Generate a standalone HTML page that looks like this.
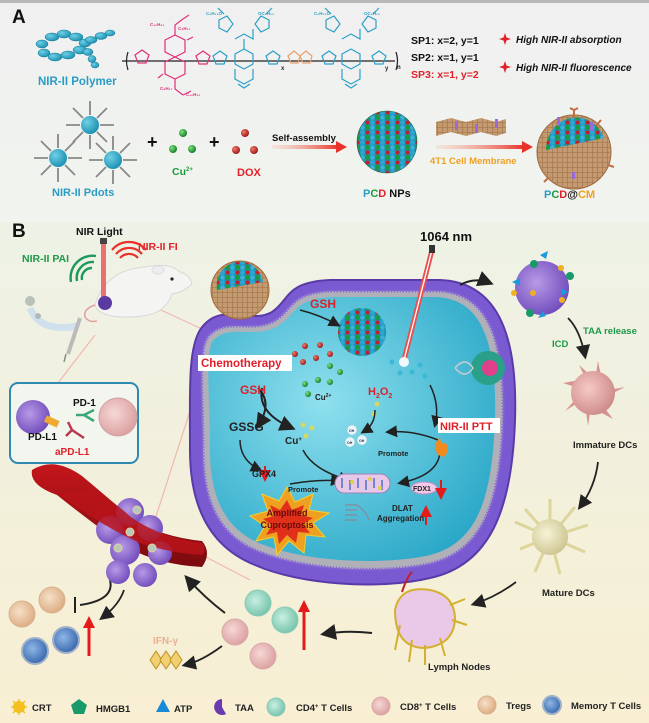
<!DOCTYPE html>
<html><head><meta charset="utf-8"><style>
html,body{margin:0;padding:0;background:#fff}
svg{display:block}
text{font-family:"Liberation Sans",Arial,sans-serif;font-weight:bold}
</style></head><body>
<svg width="649" height="723" viewBox="0 0 649 723" xmlns="http://www.w3.org/2000/svg">
<defs>
<linearGradient id="bgA" x1="0" y1="0" x2="0" y2="1"><stop offset="0" stop-color="#f0f0f0"/><stop offset="1" stop-color="#f1f4ee"/></linearGradient>
<linearGradient id="bgB" x1="0" y1="0" x2="0" y2="1"><stop offset="0" stop-color="#eef2e6"/><stop offset="0.5" stop-color="#f2f0dc"/><stop offset="1" stop-color="#f8efd3"/></linearGradient>
<linearGradient id="arr" x1="0" y1="0" x2="1" y2="0"><stop offset="0" stop-color="#f6c6b0" stop-opacity="0.3"/><stop offset="1" stop-color="#e8322a"/></linearGradient>
<radialGradient id="cyanG" cx="0.4" cy="0.4" r="0.7"><stop offset="0" stop-color="#8fe0ee"/><stop offset="1" stop-color="#2aa8c8"/></radialGradient>
<radialGradient id="bead" cx="0.35" cy="0.35" r="0.7"><stop offset="0" stop-color="#6fd0e6"/><stop offset="1" stop-color="#1a8fb0"/></radialGradient>
<radialGradient id="grn" cx="0.35" cy="0.35" r="0.7"><stop offset="0" stop-color="#7fe07f"/><stop offset="1" stop-color="#137a26"/></radialGradient>
<radialGradient id="red" cx="0.35" cy="0.35" r="0.7"><stop offset="0" stop-color="#f07a6a"/><stop offset="1" stop-color="#9a1414"/></radialGradient>
<radialGradient id="purp" cx="0.4" cy="0.4" r="0.7"><stop offset="0" stop-color="#b79ae6"/><stop offset="1" stop-color="#6a44b8"/></radialGradient>
<radialGradient id="pink" cx="0.4" cy="0.4" r="0.7"><stop offset="0" stop-color="#f6d8d6"/><stop offset="1" stop-color="#d89a9a"/></radialGradient>
<radialGradient id="cd4" cx="0.4" cy="0.4" r="0.7"><stop offset="0" stop-color="#c9efe2"/><stop offset="1" stop-color="#6cbfa5"/></radialGradient>
<radialGradient id="treg" cx="0.4" cy="0.4" r="0.7"><stop offset="0" stop-color="#f7e0c8"/><stop offset="1" stop-color="#d8a77a"/></radialGradient>
<radialGradient id="mem" cx="0.4" cy="0.4" r="0.7"><stop offset="0" stop-color="#8fb6e6"/><stop offset="1" stop-color="#2c5ea6"/></radialGradient>
<radialGradient id="dc" cx="0.4" cy="0.4" r="0.7"><stop offset="0" stop-color="#f6c9c6"/><stop offset="1" stop-color="#c98583"/></radialGradient>
<radialGradient id="mdc" cx="0.4" cy="0.4" r="0.7"><stop offset="0" stop-color="#f7f4d6"/><stop offset="1" stop-color="#c9c08a"/></radialGradient>
<linearGradient id="vessel" x1="0" y1="0" x2="0" y2="1"><stop offset="0" stop-color="#c4161c"/><stop offset="1" stop-color="#7a0a0e"/></linearGradient>
<pattern id="npP" width="10" height="10" patternUnits="userSpaceOnUse">
<rect width="10" height="10" fill="#1e8fb5"/><circle cx="2.5" cy="2.5" r="2.5" fill="#2aa6cf"/><circle cx="7.5" cy="7.5" r="2.5" fill="#1c9a3a"/><circle cx="7.5" cy="2.5" r="2" fill="#c0202a"/><circle cx="2.5" cy="7.5" r="2.3" fill="#3ab2d8"/></pattern>
<pattern id="memb" width="5" height="5" patternUnits="userSpaceOnUse"><rect width="5" height="5" fill="#c49a70"/><path d="M0 2.5H5M2.5 0V5" stroke="#a87a52" stroke-width="0.8"/></pattern>
<marker id="ah" markerWidth="8" markerHeight="8" refX="6" refY="4" orient="auto"><path d="M0,0 L8,4 L0,8 Z" fill="#222"/></marker>
<marker id="ahr" markerWidth="6" markerHeight="6" refX="3" refY="3" orient="auto"><path d="M0,0 L6,3 L0,6 Z" fill="#e51b1b"/></marker>
</defs>

<rect x="0" y="0" width="649" height="230" fill="url(#bgA)"/>
<rect x="0" y="0" width="649" height="3" fill="#b8b8b8"/>
<rect x="0" y="222" width="649" height="501" fill="url(#bgB)"/>

<text x="12" y="23" font-size="19" fill="#111">A</text>
<g fill="url(#bead)" stroke="#127a98" stroke-width="0.5">
<ellipse cx="42" cy="44" rx="6" ry="4"/><ellipse cx="52" cy="37" rx="7" ry="4"/><ellipse cx="64" cy="34" rx="7" ry="4"/><ellipse cx="76" cy="37" rx="7" ry="4"/><ellipse cx="85" cy="43" rx="6" ry="4"/>
<ellipse cx="44" cy="53" rx="6" ry="4"/><ellipse cx="55" cy="57" rx="7" ry="4"/><ellipse cx="68" cy="55" rx="7" ry="4"/><ellipse cx="80" cy="50" rx="7" ry="4"/>
<ellipse cx="91" cy="40" rx="6" ry="3.5"/><ellipse cx="101" cy="36" rx="6" ry="3.5"/><ellipse cx="110" cy="33" rx="5" ry="3"/>
<ellipse cx="88" cy="52" rx="5" ry="3.5"/><ellipse cx="92" cy="59" rx="4" ry="3.5"/><ellipse cx="95" cy="65" rx="4" ry="3"/>
</g>
<text x="38" y="85" font-size="11.5" fill="#2a9dc6">NIR-II Polymer</text>
<g fill="none" stroke-width="1.2">
<path d="M122 61 H395" stroke="#222"/>
<path d="M128 52 q-3 9 0 18 M396 52 q3 9 0 18" stroke="#222"/>
<g stroke="#e0307a">
<path d="M135 55 l7 -5 l7 5 l-3 8 h-8 z"/>
<path d="M165 40 l10 -5 l10 5 v12 l-10 5 l-10 -5 z M175 57 l10 5 v12 l-10 5 l-10 -5 v-12 z"/>
<path d="M175 35 v-10 l8 -6 M183 19 l6 -4 M175 79 v10 l8 6 M183 95 l8 -4"/>
<path d="M187 40 l6 -3 M163 74 l-5 4"/>
<path d="M196 56 l7 -5 l7 5 l-3 8 h-8 z"/>
</g>
<g stroke="#2aa0c8">
<path d="M213 56 l7 -5 l7 5 l-3 8 h-8 z"/>
<path d="M235 54 l9 -5 l9 5 v10 l-9 5 l-9 -5 z M244 49 l0 -10 M235 39 l9 -5 l9 5 v-10 M235 69 v10 l9 5 l9 -5 v-10"/>
<path d="M233 24 l-6 -8 l-8 4 l0 8 l8 4 z M255 24 l6 -8 l8 4 v8 l-8 4 z M224 14 l-6 -6 M266 14 l6 -6"/>
<path d="M238 84 l6 4 l6 -4"/>
<path d="M266 56 l7 -5 l7 5 l-3 8 h-8 z"/>
</g>
<path d="M288 56 l6 -5 l6 5 l-2 7 h-7 z M300 56 l6 -5 l6 5 l-2 7 h-7 z" stroke="#e9a070"/>
<g stroke="#2aa0c8">
<path d="M322 56 l7 -5 l7 5 l-3 8 h-8 z"/>
<path d="M342 54 l9 -5 l9 5 v10 l-9 5 l-9 -5 z M342 39 l9 -5 l9 5 v-10 M342 69 v10 l9 5 l9 -5 v-10"/>
<path d="M340 24 l-6 -8 l-8 4 l0 8 l8 4 z M362 24 l6 -8 l8 4 v8 l-8 4 z M331 14 l-6 -6 M373 14 l6 -6"/>
<path d="M345 84 l6 4 l6 -4"/>
<path d="M372 56 l7 -5 l7 5 l-3 8 h-8 z"/>
</g>
</g>
<g font-size="4.5" fill="#e0307a"><text x="150" y="26">C₁₀H₂₁</text><text x="178" y="30">C₈H₁₇</text><text x="160" y="90">C₈H₁₇</text><text x="186" y="96">C₁₀H₂₁</text></g>
<g font-size="4.5" fill="#2aa0c8"><text x="206" y="15">C₆H₁₃O</text><text x="258" y="15">OC₆H₁₃</text><text x="314" y="15">C₆H₁₃O</text><text x="364" y="15">OC₆H₁₃</text></g>
<text x="281" y="70" font-size="6" fill="#222">x</text><text x="385" y="70" font-size="6" fill="#222">y</text><text x="397" y="69" font-size="6" fill="#222">n</text>

<text x="411" y="44" font-size="10.5" fill="#111">SP1: x=2, y=1</text>
<text x="411" y="61" font-size="10.5" fill="#111">SP2: x=1, y=1</text>
<text x="411" y="78" font-size="10.5" fill="#e0202a">SP3: x=1, y=2</text>
<g fill="#e0202a"><path d="M505 33 l1.5 4.5 l4.5 1.5 l-4.5 1.5 l-1.5 4.5 l-1.5 -4.5 l-4.5 -1.5 l4.5 -1.5 z"/><path d="M505 61 l1.5 4.5 l4.5 1.5 l-4.5 1.5 l-1.5 4.5 l-1.5 -4.5 l-4.5 -1.5 l4.5 -1.5 z"/></g>
<text x="516" y="43" font-size="10" font-style="italic" fill="#111">High NIR-II absorption</text>
<text x="516" y="71" font-size="10" font-style="italic" fill="#111">High NIR-II fluorescence</text>

<g stroke="#888" stroke-width="1.8">
<g transform="translate(90,125)"><path d="M0-24V-10M0 10V24M-24 0H-10M10 0H24M-17-17L-7-7M7 7L17 17M-17 17L-7 7M7-7L17-17"/></g>
<g transform="translate(58,158)"><path d="M0-24V-10M0 10V24M-24 0H-10M10 0H24M-17-17L-7-7M7 7L17 17M-17 17L-7 7M7-7L17-17"/></g>
<g transform="translate(113,160)"><path d="M0-24V-10M0 10V24M-24 0H-10M10 0H24M-17-17L-7-7M7 7L17 17M-17 17L-7 7M7-7L17-17"/></g>
</g>
<circle cx="90" cy="125" r="9" fill="url(#bead)"/><circle cx="58" cy="158" r="9" fill="url(#bead)"/><circle cx="113" cy="160" r="9" fill="url(#bead)"/>
<text x="52" y="196" font-size="11" fill="#2a9dc6">NIR-II Pdots</text>
<text x="147" y="148" font-size="18" fill="#111">+</text>
<circle cx="183" cy="133" r="4" fill="url(#grn)"/><circle cx="173" cy="149" r="4" fill="url(#grn)"/><circle cx="192" cy="149" r="4" fill="url(#grn)"/>
<text x="172" y="175" font-size="10.5" fill="#1c9a3a">Cu<tspan font-size="6" dy="-4">2+</tspan></text>
<text x="209" y="148" font-size="18" fill="#111">+</text>
<circle cx="245" cy="133" r="4" fill="url(#red)"/><circle cx="236" cy="150" r="4" fill="url(#red)"/><circle cx="254" cy="150" r="4" fill="url(#red)"/>
<text x="237" y="176" font-size="11" fill="#e0202a">DOX</text>
<text x="272" y="141" font-size="9.5" fill="#111">Self-assembly</text>
<rect x="272" y="145" width="66" height="4" fill="url(#arr)"/><path d="M336 141 L347 147 L336 153 Z" fill="#e8322a"/>
<ellipse cx="387" cy="142" rx="30" ry="31" fill="url(#npP)" stroke="#166a4a" stroke-width="0.6"/>
<text x="363" y="197" font-size="11"><tspan fill="#2a9dc6">P</tspan><tspan fill="#1c9a3a">C</tspan><tspan fill="#e0202a">D</tspan><tspan fill="#111"> NPs</tspan></text>
<path d="M436 122 l15 -4 l15 4 l15 -4 l15 4 l10 -3 v14 l-10 3 l-15 -4 l-15 4 l-15 -4 l-15 4 z" fill="url(#memb)"/>
<g fill="#9a6ad8"><rect x="455" y="121" width="3" height="9"/><rect x="475" y="124" width="3" height="9"/><rect x="495" y="119" width="3" height="9"/></g>
<rect x="436" y="145" width="88" height="4" fill="url(#arr)"/><path d="M522 141 L533 147 L522 153 Z" fill="#e8322a"/>
<text x="430" y="164" font-size="9.5" fill="#f0a020">4T1 Cell Membrane</text>
<circle cx="574" cy="152" r="37" fill="url(#memb)" stroke="#a06a3e"/>
<path d="M546 150 a30 32 0 0 1 58 -12 z" fill="url(#npP)"/>
<path d="M574 118 v-8 M570 108 l4 2 4 -2 M596 126 l5 -6 M608 165 l6 2 M548 178 l-4 4" stroke="#c07040" stroke-width="2" fill="none"/>
<g fill="#9a6ad8"><rect x="557" y="117" width="3" height="9"/><rect x="590" y="122" width="3" height="9"/><rect x="572" y="172" width="3" height="7"/></g>
<text x="544" y="198" font-size="11"><tspan fill="#2a9dc6">P</tspan><tspan fill="#1c9a3a">C</tspan><tspan fill="#e0202a">D</tspan><tspan fill="#111">@</tspan><tspan fill="#f0a020">CM</tspan></text>

<text x="12" y="237" font-size="19" fill="#111">B</text>
<text x="76" y="235" font-size="10.5" fill="#111">NIR Light</text>
<text x="420" y="241" font-size="13" fill="#111">1064 nm</text>
<text x="138" y="250" font-size="10.5" fill="#e0202a">NIR-II FI</text>
<text x="22" y="262" font-size="10.5" fill="#1c9a4a">NIR-II PAI</text>
<g fill="none" stroke="#e8322a" stroke-width="2.2"><path d="M120 258 a12 12 0 0 1 18 0"/><path d="M116 254 a17 17 0 0 1 26 0"/><path d="M112 250 a22 22 0 0 1 34 0"/></g>
<g fill="none" stroke="#1c9a5a" stroke-width="2.4"><path d="M92 268 a10 10 0 0 0 -10 12"/><path d="M94 262 a16 16 0 0 0 -17 19"/><path d="M96 256 a22 22 0 0 0 -25 26"/></g>
<g stroke="#f0b8b0" stroke-width="1.2" fill="none"><path d="M150 305 L215 335"/><path d="M95 335 L58 383"/><path d="M200 380 L150 535"/><path d="M135 520 L250 580"/></g>
<path d="M95 305 q10 -35 50 -38 q25 -5 35 5 q10 3 12 12 q-8 8 -20 10 q-5 15 -20 20 q-20 5 -40 2 q-15 -3 -17 -11z" fill="#f4f4f2" stroke="#d8d8d8"/>
<path d="M95 305 q-12 4 -10 12 q4 6 12 4" fill="none" stroke="#e0a0a0" stroke-width="1.5"/>
<circle cx="172" cy="279" r="1.6" fill="#222"/><ellipse cx="158" cy="270" rx="6" ry="4" fill="#eee" stroke="#ddd"/>
<rect x="101" y="239" width="5" height="62" fill="#e85050" opacity="0.8"/><rect x="100" y="238" width="7" height="6" fill="#444"/>
<circle cx="105" cy="303" r="7" fill="#5a3aa0"/>
<path d="M30 308 q10 25 48 18" fill="none" stroke="#c8dcef" stroke-width="7" opacity="0.8"/>
<circle cx="30" cy="301" r="5" fill="#b8c0b8"/><circle cx="38" cy="316" r="3" fill="#b0b8b8"/>
<path d="M80 318 l-12 36" stroke="#bbb" stroke-width="4"/><path d="M66 354 l-2 8" stroke="#888" stroke-width="1.5"/>
<rect x="10" y="383" width="128" height="80" rx="8" fill="#f3f6ef" stroke="#2f8ab0" stroke-width="2"/>
<circle cx="33" cy="417" r="17" fill="url(#purp)"/>
<rect x="45" y="418" width="14" height="7" fill="#f0a830" transform="rotate(25 52 421)"/>
<path d="M84 415 l10 -5 M84 415 l10 6 M84 415 h-8" stroke="#3aa878" stroke-width="2.5" fill="none"/>
<path d="M72 430 l-4 -8 M72 430 l-6 6 M72 430 l12 8" stroke="#b83a50" stroke-width="2.5" fill="none"/>
<circle cx="118" cy="417" r="19" fill="url(#pink)" stroke="#d2a0a0"/>
<text x="73" y="406" font-size="10" fill="#111">PD-1</text>
<text x="28" y="440" font-size="10" fill="#111">PD-L1</text>
<text x="55" y="455" font-size="10" fill="#e0202a">aPD-L1</text>

<path d="M200 330 C220 300 250 325 272 312 C290 300 285 282 330 280 L440 280 C495 282 518 330 515 420 C512 510 490 565 430 578 C380 590 300 585 255 565 C205 545 190 500 190 450 C190 390 188 350 200 330Z" fill="#7a5ad0" stroke="#5a3aa8" stroke-width="2"/>
<path d="M207 338 C225 315 252 335 276 320 C293 309 290 293 332 291 L438 291 C486 293 505 335 503 420 C500 505 482 552 428 564 C380 574 305 570 260 552 C215 535 203 495 203 450 C203 395 198 355 207 338Z" fill="#b0b0b8" stroke="#8a6ad8" stroke-width="3" stroke-dasharray="1.5 1.5"/>
<path d="M212 342 C228 322 254 340 278 326 C296 315 294 298 333 297 L436 297 C480 299 497 338 495 420 C492 500 477 545 426 556 C380 565 308 562 264 545 C222 530 210 492 210 450 C210 398 205 360 212 342Z" fill="url(#cyanG)"/>
<circle cx="240" cy="290" r="29" fill="url(#memb)" stroke="#a06a3e"/>
<path d="M217 290 a23 24 0 0 1 46 -8 z" fill="url(#npP)"/>
<circle cx="362" cy="332" r="24" fill="url(#npP)"/>
<circle cx="488" cy="368" r="17" fill="#2aa088"/><circle cx="490" cy="368" r="8" fill="#e0408a"/>
<path d="M455 368 q10 -12 18 0 q-8 12 -18 0" fill="none" stroke="#ccc" stroke-width="1.5"/>
<path d="M432 250 L404 360" stroke="#e85050" stroke-width="5"/><path d="M432 250 L404 360" stroke="#fff" stroke-width="1.3"/>
<rect x="429" y="245" width="6" height="8" fill="#333"/>
<circle cx="404" cy="362" r="5" fill="#fff" opacity="0.9"/>
<g fill="url(#red)"><circle cx="295" cy="354" r="3"/><circle cx="305" cy="346" r="3"/><circle cx="320" cy="345" r="3"/><circle cx="303" cy="362" r="3"/><circle cx="316" cy="358" r="3"/><circle cx="330" cy="354" r="3"/></g>
<g fill="url(#grn)"><circle cx="330" cy="366" r="3"/><circle cx="340" cy="372" r="3"/><circle cx="305" cy="384" r="3"/><circle cx="318" cy="380" r="3"/><circle cx="330" cy="382" r="3"/><circle cx="308" cy="394" r="3"/></g>
<g fill="#3ab8d8"><circle cx="392" cy="362" r="2.5"/><circle cx="400" cy="373" r="2.5"/><circle cx="412" cy="372" r="2.5"/><circle cx="420" cy="365" r="2.5"/><circle cx="425" cy="376" r="2.5"/></g>
<g fill="#d8d860"><circle cx="303" cy="425" r="2.5"/><circle cx="312" cy="428" r="2.5"/><circle cx="306" cy="436" r="2.5"/><circle cx="377" cy="404" r="2.5"/><circle cx="374" cy="414" r="2.5"/></g>
<g fill="#e8f6fa" stroke="#9ac8d8" stroke-width="0.6"><circle cx="352" cy="430" r="5"/><circle cx="350" cy="442" r="5"/><circle cx="362" cy="440" r="5"/></g>
<g font-size="3.5" fill="#335"><text x="349" y="432">OH</text><text x="347" y="444">OH</text><text x="359" y="442">OH</text></g>
<g fill="none" stroke="#222" stroke-width="1.5" marker-end="url(#ah)">
<path d="M300 310 q20 5 38 15"/><path d="M258 388 q15 15 0 38" stroke-width="2"/><path d="M262 388 q-5 25 30 40" stroke-width="2"/>
<path d="M240 440 q0 20 20 30"/><path d="M303 450 q10 20 45 30"/><path d="M290 484 q30 -5 50 -3"/>
<path d="M430 385 q10 20 5 40"/><path d="M375 410 q0 15 -12 22"/><path d="M438 440 q-25 -10 -50 -8"/><path d="M440 450 q0 25 -40 33"/>
</g>
<path d="M438 455 q-6 -10 2 -18 q0 8 6 6 q4 8 -2 14 z" fill="#f28a20"/>
<rect x="335" y="474" width="55" height="19" rx="9.5" fill="#e6c8e8" stroke="#a080b8"/>
<path d="M342 478 v10 M350 480 v10 M358 478 v10 M366 480 v10 M374 478 v10 M382 480 v10" stroke="#5070c0" stroke-width="1.5"/>
<g fill="#e0d040"><circle cx="352" cy="482" r="2"/><circle cx="370" cy="479" r="2"/><circle cx="380" cy="488" r="2"/></g>
<ellipse cx="424" cy="488" rx="13" ry="6" fill="#f0c8e8" stroke="#c090c0"/>
<text x="413" y="491" font-size="7" fill="#222">FDX1</text>
<path d="M441 480 v14" stroke="#e51b1b" stroke-width="2" marker-end="url(#ahr)"/>
<path d="M426 525 v-14" stroke="#e51b1b" stroke-width="2" marker-end="url(#ahr)"/>
<path d="M265 466 v10" stroke="#e51b1b" stroke-width="2" marker-end="url(#ahr)"/>
<path d="M287 487 l8 15 l18 -8 l-4 16 l20 3 l-16 10 l12 14 l-19 -2 l-2 18 l-15 -12 l-12 14 l-3 -18 l-18 4 l9 -15 l-15 -10 l18 -5 l-6 -17 l17 7 z" fill="#f0a020" stroke="#f4d030"/>
<path d="M287 500 l5 10 l12 -5 l-3 10 l12 3 l-10 6 l7 9 l-12 -1 l-2 11 l-9 -8 l-8 9 l-2 -12 l-11 3 l6 -10 l-9 -6 l11 -3 l-4 -11 l10 5 z" fill="#e0301a"/>
<text x="287" y="516" font-size="9" fill="#6a0a0a" text-anchor="middle">Amplified</text>
<text x="287" y="528" font-size="9" fill="#6a0a0a" text-anchor="middle">Cuproptosis</text>
<path d="M345 505 h12 M345 510 h12 M345 515 h12 M345 520 h12 M357 505 q8 5 12 15" stroke="#889" stroke-width="1.2" fill="none"/>
<text x="310" y="308" font-size="12" fill="#e0202a">GSH</text>
<rect x="198" y="355" width="94" height="16" fill="#fff"/>
<text x="201" y="367" font-size="11.5" fill="#e0202a">Chemotherapy</text>
<text x="240" y="394" font-size="12" fill="#e0202a">GSH</text>
<text x="315" y="400" font-size="8" fill="#222">Cu<tspan font-size="5" dy="-3">2+</tspan></text>
<text x="229" y="431" font-size="12" fill="#222">GSSG</text>
<text x="285" y="444" font-size="10" fill="#222">Cu<tspan font-size="6" dy="-3">+</tspan></text>
<text x="368" y="395" font-size="11" fill="#e0202a">H<tspan font-size="7" dy="3">2</tspan><tspan dy="-3">O</tspan><tspan font-size="7" dy="3">2</tspan></text>
<rect x="438" y="418" width="62" height="15" fill="#fff"/>
<text x="440" y="430" font-size="11" fill="#e0202a">NIR-II PTT</text>
<text x="378" y="456" font-size="7.5" fill="#222">Promote</text>
<text x="252" y="477" font-size="9" fill="#222">GPX4</text>
<text x="288" y="492" font-size="7.5" fill="#222">Promote</text>
<text x="392" y="511" font-size="8" fill="#222">DLAT</text>
<text x="377" y="521" font-size="8" fill="#222">Aggregation</text>

<circle cx="542" cy="288" r="27" fill="url(#purp)"/>
<g fill="#1a9ad8"><path d="M540 255 l8 -4 l-2 8z"/><path d="M512 282 l8 -4 v8z"/><path d="M568 292 l-7 -4 v8z"/><path d="M546 316 l-8 2 l5 -7z"/></g>
<g fill="#1a9a6a"><circle cx="534" cy="264" r="4"/><circle cx="570" cy="276" r="4"/><circle cx="530" cy="313" r="4"/></g>
<g fill="#f0b020"><circle cx="561" cy="268" r="3"/><circle cx="514" cy="293" r="3"/><circle cx="533" cy="293" r="3"/><circle cx="562" cy="300" r="3"/></g>
<path d="M460 285 q15 -8 30 -2" fill="none" stroke="#222" stroke-width="2" marker-end="url(#ah)"/>
<text x="583" y="334" font-size="9.5" fill="#1c9a4a">TAA release</text>
<text x="552" y="347" font-size="9.5" fill="#1c9a4a">ICD</text>
<path d="M568 318 q12 12 17 38" fill="none" stroke="#222" stroke-width="1.8" marker-end="url(#ah)"/>
<g fill="#d89290"><path d="M593 393 l-30 -10 l28 -5z M593 393 l5 -32 l6 30z M593 393 l32 -6 l-28 14z M593 393 l20 26 l-26 -14z M593 393 l-5 33 l-4 -30z M593 393 l-28 18 l20 -22z M593 393 l-14 -28 l20 18z"/></g>
<circle cx="593" cy="393" r="22" fill="url(#dc)"/>
<text x="573" y="448" font-size="9.5" fill="#222">Immature DCs</text>
<path d="M598 462 q-3 25 -18 45" fill="none" stroke="#222" stroke-width="1.8" marker-end="url(#ah)"/>
<g stroke="#ddd59a" stroke-width="3" fill="none"><path d="M550 537 l-35 -15 M550 537 l-30 12 M550 537 l-15 35 M550 537 l10 37 M550 537 l35 15 M550 537 l38 -12 M550 537 l25 -30 M550 537 l0 -38 M550 537 l-25 -28"/></g>
<circle cx="550" cy="537" r="18" fill="url(#mdc)"/>
<text x="542" y="596" font-size="9.5" fill="#222">Mature DCs</text>
<path d="M516 582 q-20 15 -42 22" fill="none" stroke="#222" stroke-width="1.8" marker-end="url(#ah)"/>
<path d="M395 610 q5 -25 35 -20 q25 5 25 30 q-2 25 -30 28 q-30 0 -30 -38z" fill="#eac8e8" stroke="#d4b030" stroke-width="2"/>
<path d="M400 625 l-5 25 M412 640 l-3 22 M425 645 v20 M440 638 l5 18 M452 620 l15 5 M450 605 l15 -6" stroke="#d4b030" stroke-width="2" fill="none"/>
<path d="M402 592 q5 -15 10 -20" stroke="#c0202a" stroke-width="2" fill="none"/>
<text x="428" y="670" font-size="9.5" fill="#222">Lymph Nodes</text>
<path d="M372 633 q-25 -3 -48 1" fill="none" stroke="#222" stroke-width="2" marker-end="url(#ah)"/>
<circle cx="258" cy="603" r="13" fill="url(#cd4)" stroke="#8ccab5"/><circle cx="285" cy="620" r="13" fill="url(#cd4)" stroke="#8ccab5"/>
<circle cx="235" cy="632" r="13" fill="url(#pink)" stroke="#d8a8a8"/><circle cx="263" cy="656" r="13" fill="url(#pink)" stroke="#d8a8a8"/>
<path d="M304 650 v-40" stroke="#e51b1b" stroke-width="3"/><path d="M298 612 l6 -12 l6 12z" fill="#e51b1b"/>
<path d="M225 613 q-20 -15 -38 -35" fill="none" stroke="#222" stroke-width="2" marker-end="url(#ah)"/>
<path d="M222 646 q-20 15 -37 19" fill="none" stroke="#222" stroke-width="1.8" marker-end="url(#ah)"/>
<text x="153" y="644" font-size="10" fill="#e8b090">IFN-γ</text>
<g fill="#f0d070" stroke="#c09020"><path d="M150 660 l6 -9 l6 9 l-6 9z"/><path d="M160 660 l6 -9 l6 9 l-6 9z"/><path d="M170 660 l6 -9 l6 9 l-6 9z"/></g>
<circle cx="22" cy="614" r="13" fill="url(#treg)" stroke="#d8b090"/><circle cx="52" cy="600" r="13" fill="url(#treg)" stroke="#d8b090"/>
<circle cx="35" cy="651" r="13" fill="url(#mem)" stroke="#a0b0c8" stroke-width="2"/><circle cx="66" cy="640" r="13" fill="url(#mem)" stroke="#a0b0c8" stroke-width="2"/>
<path d="M89 656 v-30" stroke="#e51b1b" stroke-width="3"/><path d="M83 628 l6 -12 l6 12z" fill="#e51b1b"/>
<path d="M110 580 q5 20 -30 25" fill="none" stroke="#222" stroke-width="2"/><path d="M75 597 v16" stroke="#222" stroke-width="2"/>
<path d="M124 590 q-5 15 -22 28" fill="none" stroke="#222" stroke-width="1.8" marker-end="url(#ah)"/>
<path d="M32 470 q22 -14 50 6 q30 25 50 43 q30 18 70 22 q10 12 0 26 q-55 -3 -90 -30 q-30 -22 -55 -42 q-28 -10 -25 -25z" fill="url(#vessel)"/>
<g fill="url(#purp)"><circle cx="130" cy="512" r="14"/><circle cx="110" cy="530" r="14"/><circle cx="150" cy="528" r="13"/><circle cx="125" cy="550" r="15"/><circle cx="160" cy="553" r="12"/><circle cx="118" cy="572" r="12"/><circle cx="145" cy="575" r="12"/></g>
<path d="M60 495 q40 30 80 48 q30 10 62 12 q5 -5 0 -12 q-40 -5 -70 -25 q-20 -18 -40 -30z" fill="#b8141a" opacity="0.85"/>
<g fill="#b8c8b8" stroke="#e0d0a0"><circle cx="137" cy="510" r="4"/><circle cx="130" cy="532" r="4"/><circle cx="118" cy="548" r="4"/><circle cx="152" cy="548" r="4"/></g>
<g transform="translate(19,707)"><circle r="6" fill="#f4c020"/><path d="M-8 0h16M0-8v16M-6-6l12 12M-6 6l12-12" stroke="#f4c020" stroke-width="1.5"/></g>
<text x="32" y="711" font-size="9.5" fill="#222">CRT</text>
<path d="M79 699 l8 6 l-3 9 h-10 l-3 -9z" fill="#1a9a6a"/>
<text x="96" y="712" font-size="9.5" fill="#222">HMGB1</text>
<path d="M163 699 l7 13 h-14z" fill="#1a8ad8"/>
<text x="174" y="712" font-size="9.5" fill="#222">ATP</text>
<path d="M222 699 a8 8 0 1 0 4 15 l-4 -7 z" fill="#6a3ab0"/>
<text x="235" y="711" font-size="9.5" fill="#222">TAA</text>
<circle cx="276" cy="707" r="9" fill="url(#cd4)" stroke="#8ccab5"/>
<text x="296" y="711" font-size="9.5" fill="#222">CD4<tspan font-size="6" dy="-3">+</tspan><tspan dy="3"> T Cells</tspan></text>
<circle cx="381" cy="706" r="9" fill="url(#pink)" stroke="#d8a8a8"/>
<text x="400" y="710" font-size="9.5" fill="#222">CD8<tspan font-size="6" dy="-3">+</tspan><tspan dy="3"> T Cells</tspan></text>
<circle cx="487" cy="705" r="9" fill="url(#treg)" stroke="#d8b090"/>
<text x="506" y="709" font-size="9.5" fill="#222">Tregs</text>
<circle cx="552" cy="705" r="9" fill="url(#mem)" stroke="#a0b0c8" stroke-width="2"/>
<text x="571" y="709" font-size="9.5" fill="#222">Memory T Cells</text>
</svg>
</body></html>
